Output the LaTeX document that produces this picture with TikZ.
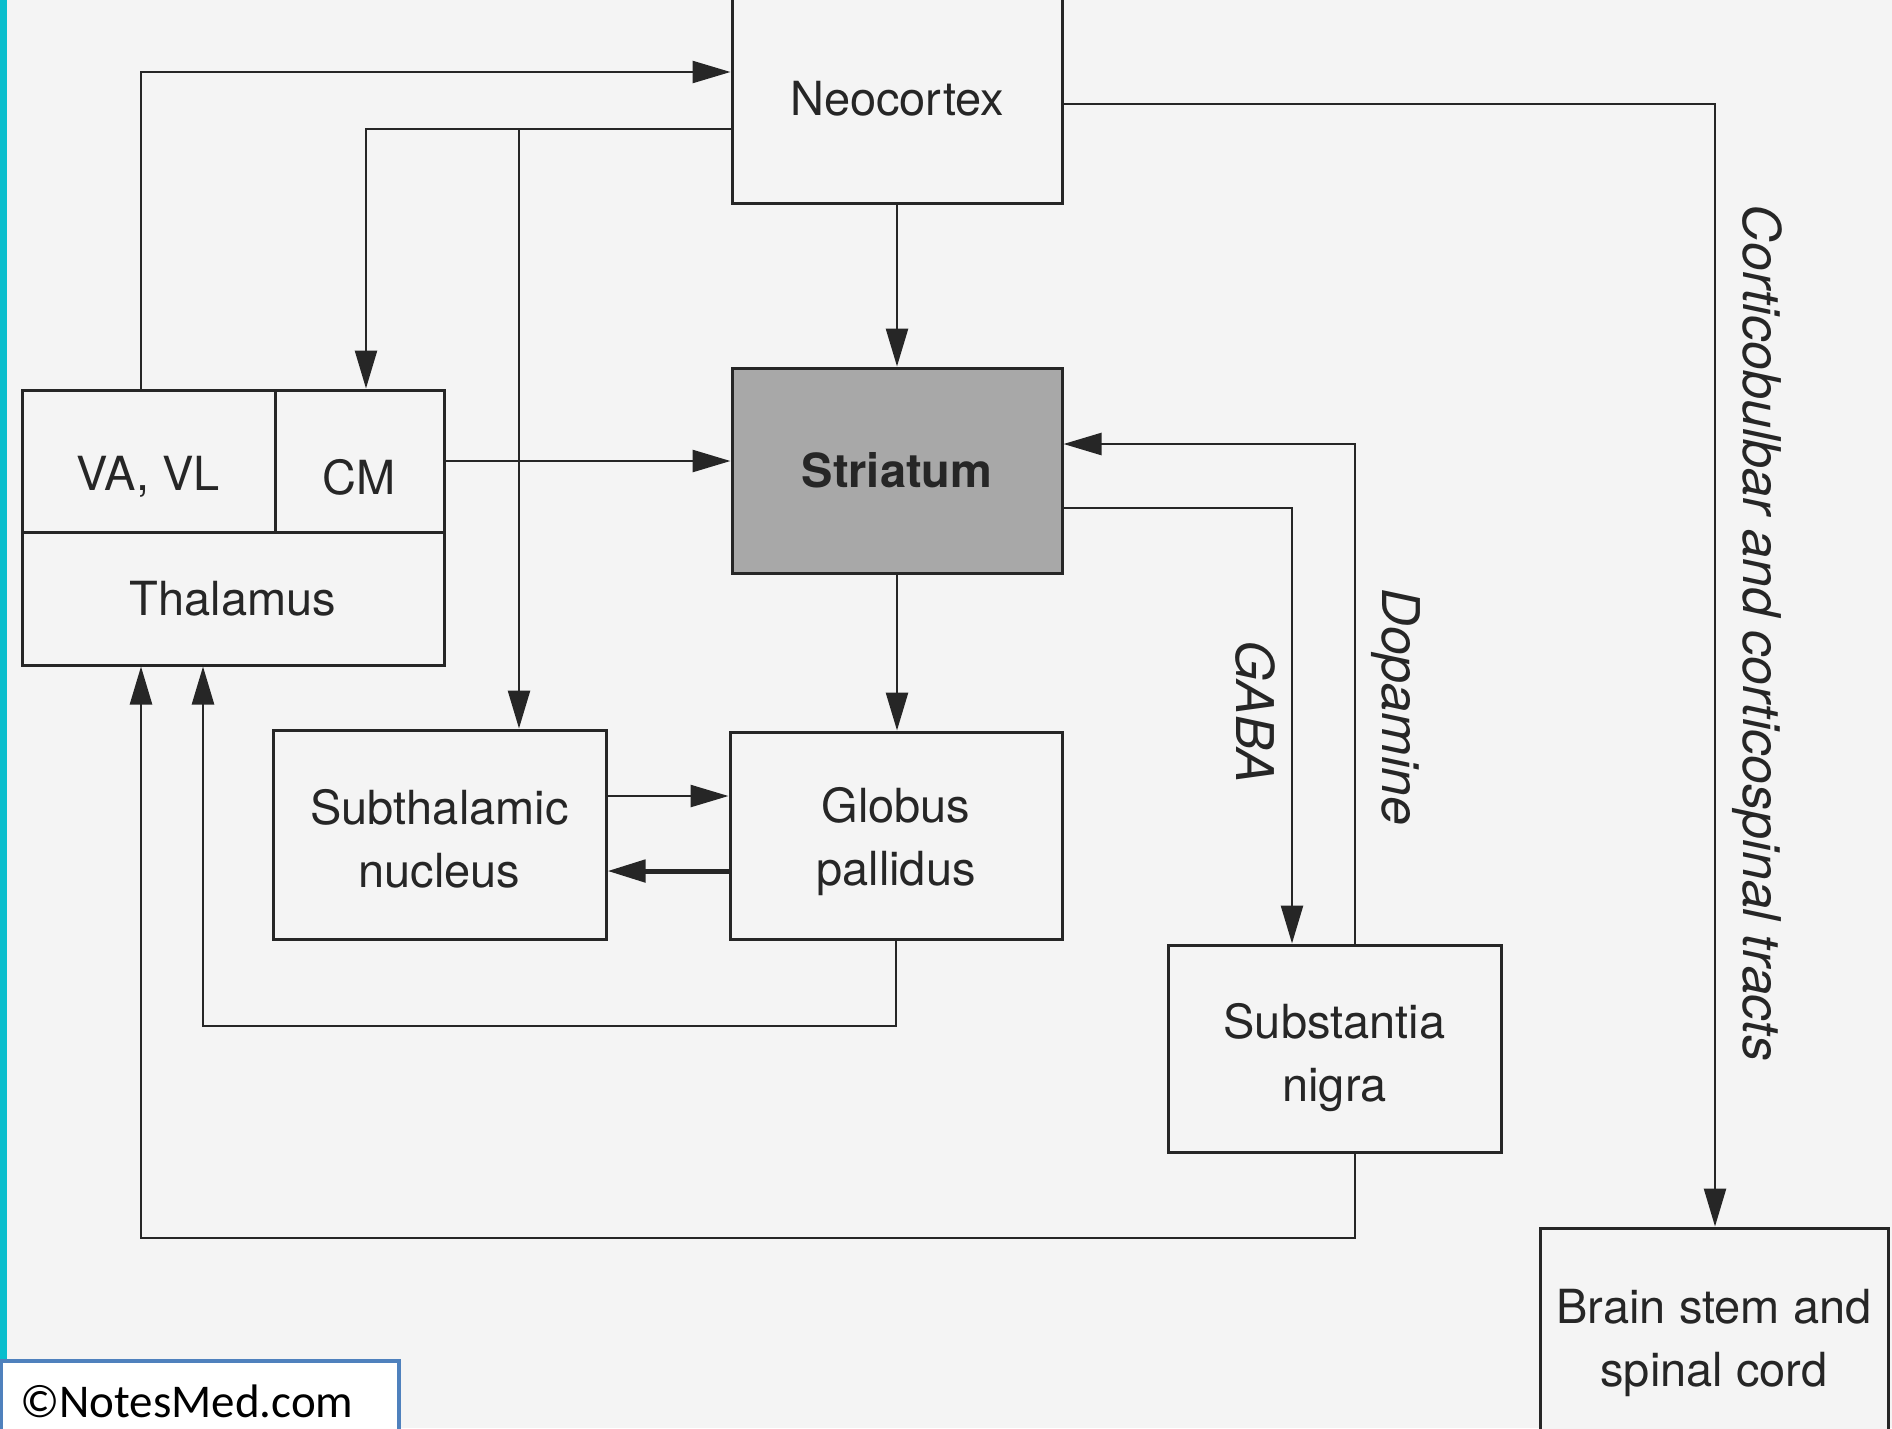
\documentclass[tikz,border=0pt]{standalone}
\usepackage{fontspec}
\setmainfont{TeX Gyre Heros}
\newfontfamily\notesfont{Carlito}
\usetikzlibrary{arrows.meta}
\definecolor{bgc}{RGB}{244,244,244}
\definecolor{ink}{RGB}{38,38,38}
\definecolor{strfill}{RGB}{168,168,168}
\definecolor{cyanbar}{RGB}{10,190,205}
\definecolor{nmblue}{RGB}{79,129,189}
\begin{document}
\begin{tikzpicture}[x=1pt,y=-1pt,
  box/.style={draw=ink, line width=3pt, fill=bgc, text=ink, align=center,
    font=\fontsize{47}{63}\selectfont, inner sep=0pt},
  txt/.style={text=ink, align=center, font=\fontsize{47}{63}\selectfont, inner sep=0pt},
  conn/.style={draw=ink, line width=2.6pt},
  arr/.style={conn, -{Triangle[length=38pt,width=22pt]}},
  lab/.style={text=ink, font=\fontsize{52}{62}\selectfont\itshape, rotate=-90, inner sep=0pt}
]
\useasboundingbox (0,0) rectangle (1892,1428);
\fill[bgc] (0,0) rectangle (1892,1428);
\fill[cyanbar] (0,0) rectangle (7,1428);

% boxes
\node[box, minimum width=330pt, minimum height=209pt] (neo) at (897,98.5) {Neocortex};
\node[box, fill=strfill, minimum width=330pt, minimum height=205pt, font=\fontsize{47}{63}\selectfont\bfseries] (str) at (897,470.5) {Striatum};
\node[box, minimum width=253pt, minimum height=142pt] (vavl) at (148.5,461) {};
\node[box, minimum width=169pt, minimum height=142pt] (cm) at (359.5,461) {};
\node[txt] (vavlt) at ([yshift=-16pt]vavl.center) {VA, VL};
\node[txt] (cmt) at ([yshift=-16pt]cm.center) {CM};
\node[box, minimum width=422pt, minimum height=133pt] (thal) at (233,598.5) {Thalamus};
\node[box, minimum width=333pt, minimum height=209pt] (stn) at (439.5,834.5) {};
\node[txt] (stnt) at ([yshift=-4pt]stn.center) {Subthalamic\\nucleus};
\node[box, minimum width=332pt, minimum height=207pt] (gp) at (896,835.5) {};
\node[txt] (gpt) at ([yshift=-6pt]gp.center) {Globus\\pallidus};
\node[box, minimum width=333pt, minimum height=207pt] (sn) at (1334.5,1048.5) {};
\node[txt] (snt) at ([yshift=-9pt]sn.center) {Substantia\\nigra};
\node[box, minimum width=348pt, minimum height=220pt] (bs) at (1714,1338) {};
\node[txt] (bst) at ([yshift=-5pt]bs.center) {Brain stem and\\spinal cord};

% connector turning points
\coordinate (c1) at (141,72);
\coordinate (c2) at (366,129);
\coordinate (c3) at (519,129);
\coordinate (c4) at (600,796);
\coordinate (c5) at (600,871);
\coordinate (c6) at (203,1026);
\coordinate (c7) at (1355,1238);
\coordinate (c8) at (141,1238);
\coordinate (c9) at (1292,508);
\coordinate (c10) at (1355,444);
\coordinate (c11) at (1715,104);

% connectors
\draw[arr] (vavl.north -| c1) -- (c1) -- (neo.west |- c1);
\draw[arr] (neo.west |- c2) -- (c2) -- (cm.north -| c2);
\draw[arr] (c3) -- (stn.north -| c3);
\draw[arr] (neo.south) -- (str.north);
\draw[arr] (cm.east) -- (str.west |- cm.east);
\draw[arr] (str.south) -- (gp.north -| str.south);
\draw[arr] (stn.east |- c4) -- (gp.west |- c4);
\draw[arr, line width=5pt] (gp.west |- c5) -- (stn.east |- c5);
\draw[arr] (gp.south) -- (gp.south |- c6) -- (c6) -- (thal.south -| c6);
\draw[arr] (sn.south -| c7) -- (c7) -- (c8) -- (thal.south -| c8);
\draw[arr] (str.east |- c9) -- (c9) -- (sn.north -| c9);
\draw[arr] (sn.north -| c10) -- (c10) -- (str.east |- c10);
\draw[arr] (neo.east |- c11) -- (c11) -- (bs.north -| c11);

% labels
\node[lab] (gaba) at (1255,712) {GABA};
\node[lab] (dopa) at (1396,707) {Dopamine};
\node[lab] (cort) at (1757,633) {Corticobulbar and corticospinal tracts};

% watermark box
\node[draw=nmblue, line width=3.5pt, fill=white, minimum width=398pt, minimum height=90pt, inner sep=0pt] (nm) at (200,1406) {};
\node[anchor=west, inner sep=0pt, font=\notesfont\fontsize{47}{56}\selectfont] (nmt) at (20,1401) {©NotesMed.com};
\end{tikzpicture}
\end{document}
